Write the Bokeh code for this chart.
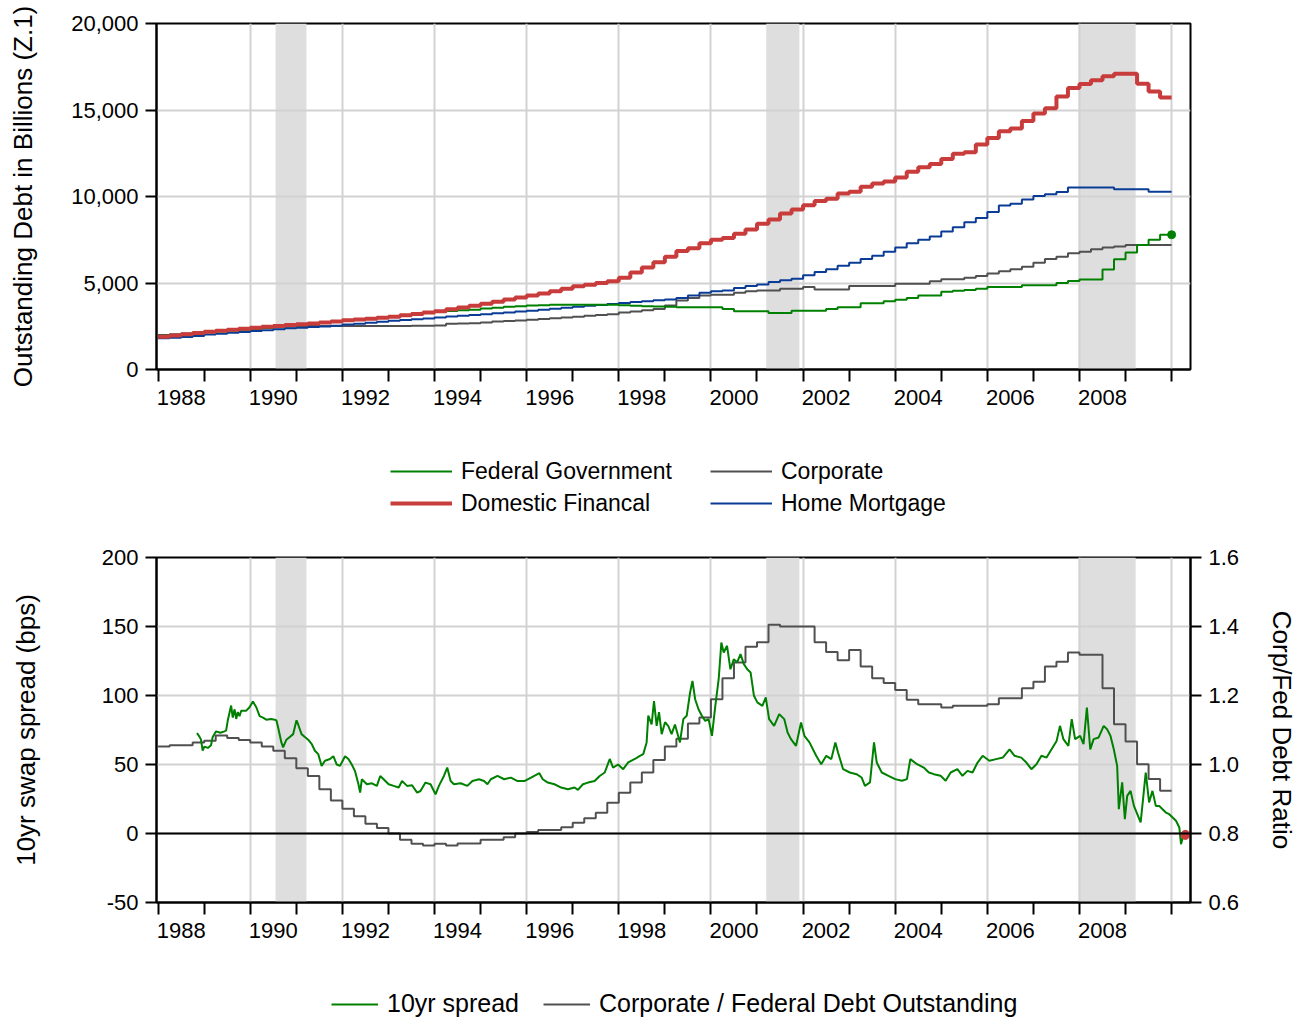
from bokeh.plotting import figure
from bokeh.models import (Range1d, LinearAxis, FixedTicker, CustomJSTickFormatter,
                          NumeralTickFormatter, BoxAnnotation, Span, Legend, LegendItem)
from bokeh.layouts import column
from bokeh.embed import file_html
from bokeh.resources import INLINE

FONT = "Liberation Sans"

# ---------------- data ----------------
first_year = 1988          # quarterly data 1988Q1 .. 2009Q4
last_year_end = 2010

federal = [
    1950, 2000, 2050, 2100,  2150, 2200, 2250, 2300,  2350, 2400, 2460, 2520,
    2580, 2640, 2700, 2760,  2820, 2880, 2940, 3000,  3060, 3130, 3200, 3270,
    3330, 3380, 3420, 3460,  3520, 3570, 3620, 3660,  3700, 3720, 3740, 3750,
    3750, 3750, 3750, 3740,  3720, 3690, 3660, 3640,  3620, 3600, 3600, 3600,
    3600, 3500, 3360, 3360,  3360, 3270, 3270, 3400,  3400, 3400, 3500, 3600,
    3600, 3830, 3830, 3950,  4030, 4140, 4280, 4280,  4500, 4550, 4600, 4670,
    4770, 4770, 4770, 4870,  4870, 4870, 5000, 5120,  5200, 5200, 5780, 6370,
    6760, 7200, 7500, 7790]

domestic = [
    1900, 1970, 2040, 2110,  2180, 2240, 2300, 2360,  2420, 2470, 2520, 2570,
    2610, 2660, 2720, 2780,  2840, 2890, 2940, 2990,  3050, 3130, 3210, 3290,
    3370, 3480, 3580, 3690,  3800, 3920, 4040, 4160,  4280, 4400, 4530, 4670,
    4810, 4900, 5000, 5100,  5300, 5600, 5900, 6200,  6520, 6850, 7010, 7300,
    7500, 7600, 7850, 8090,  8430, 8670, 9020, 9250,  9500, 9740, 9870, 10170,
    10280, 10560, 10750, 10870,  11100, 11430, 11690, 11880,  12170, 12470, 12560, 13010,
    13380, 13770, 13930, 14360,  14800, 15100, 15780, 16270,  16500, 16720, 16950, 17100,
    17100, 16520, 16070, 15720]

corporate = [
    2000, 2040, 2080, 2120,  2170, 2220, 2270, 2320,  2360, 2400, 2440, 2480,
    2500, 2510, 2520, 2520,  2520, 2520, 2520, 2520,  2520, 2520, 2530, 2530,
    2540, 2640, 2660, 2680,  2720, 2770, 2800, 2830,  2880, 2920, 2960, 3000,
    3050, 3100, 3150, 3200,  3300, 3350, 3420, 3500,  3700, 3990, 4140, 4280,
    4320, 4320, 4440, 4530,  4570, 4570, 4670, 4670,  4770, 4630, 4630, 4630,
    4830, 4830, 4830, 4830,  4960, 4960, 4960, 5100,  5220, 5220, 5310, 5410,
    5550, 5680, 5800, 5940,  6170, 6390, 6520, 6720,  6810, 6950, 7050, 7110,
    7200, 7200, 7200, 7200]

mortgage = [
    1800, 1840, 1880, 1930,  2020, 2070, 2120, 2170,  2220, 2270, 2330, 2380,
    2420, 2450, 2490, 2530,  2600, 2650, 2700, 2760,  2820, 2860, 2900, 2950,
    3000, 3060, 3100, 3150,  3200, 3250, 3300, 3350,  3400, 3450, 3510, 3570,
    3620, 3680, 3730, 3790,  3850, 3900, 3950, 4000,  4050, 4140, 4280, 4440,
    4530, 4570, 4710, 4830,  4920, 5060, 5160, 5250,  5450, 5640, 5800, 6000,
    6170, 6390, 6580, 6810,  7050, 7300, 7500, 7690,  7980, 8220, 8510, 8760,
    9110, 9480, 9580, 9830,  10030, 10130, 10260, 10520,  10520, 10520, 10520, 10420,
    10420, 10420, 10280, 10280]

corp_fed_ratio = [
    1.052, 1.056, 1.056, 1.064,  1.069, 1.084, 1.077, 1.071,  1.064, 1.052, 1.040, 1.018,
    0.989, 0.967, 0.928, 0.896,  0.872, 0.850, 0.828, 0.816,  0.800, 0.782, 0.770, 0.765,
    0.770, 0.765, 0.771, 0.771,  0.782, 0.782, 0.789, 0.800,  0.804, 0.810, 0.810, 0.818,
    0.831, 0.844, 0.860, 0.889,  0.918, 0.948, 0.977, 1.013,  1.052, 1.075, 1.119, 1.136,
    1.189, 1.250, 1.296, 1.341,  1.354, 1.405, 1.400, 1.400,  1.400, 1.354, 1.326, 1.302,
    1.332, 1.284, 1.250, 1.236,  1.216, 1.188, 1.175, 1.175,  1.165, 1.170, 1.170, 1.170,
    1.175, 1.192, 1.192, 1.221,  1.240, 1.284, 1.298, 1.325,  1.318, 1.318, 1.221, 1.117,
    1.067, 1.001, 0.958, 0.924]

spread_year = [
    1988.844, 1988.90, 1988.931, 1988.967, 1989.004, 1989.08, 1989.149, 1989.185, 1989.258, 1989.35,
    1989.44, 1989.476, 1989.513, 1989.585, 1989.62, 1989.66, 1989.695, 1989.73, 1989.767, 1989.804,
    1989.913, 1989.985, 1990.058, 1990.131, 1990.204, 1990.276, 1990.349, 1990.45, 1990.531, 1990.567,
    1990.604, 1990.676, 1990.713, 1990.785, 1990.858, 1990.931, 1991.004, 1991.04, 1991.113, 1991.185,
    1991.258, 1991.331, 1991.404, 1991.476, 1991.549, 1991.622, 1991.731, 1991.804, 1991.876, 1991.949,
    1992.058, 1992.131, 1992.204, 1992.276, 1992.349, 1992.385, 1992.422, 1992.531, 1992.64, 1992.749,
    1992.822, 1992.895, 1993.004, 1993.113, 1993.222, 1993.295, 1993.404, 1993.513, 1993.622, 1993.695,
    1993.804, 1993.913, 1994.022, 1994.095, 1994.204, 1994.276, 1994.349, 1994.422, 1994.567, 1994.713,
    1994.822, 1994.967, 1995.076, 1995.149, 1995.222, 1995.367, 1995.513, 1995.658, 1995.804, 1995.949,
    1996.095, 1996.276, 1996.349, 1996.458, 1996.604, 1996.749, 1996.895, 1997.04, 1997.113, 1997.222,
    1997.331, 1997.476, 1997.585, 1997.695, 1997.804, 1997.876, 1997.985, 1998.095, 1998.204, 1998.349,
    1998.458, 1998.531, 1998.604, 1998.64, 1998.713, 1998.764, 1998.822, 1998.873, 1998.931, 1999.004,
    1999.073, 1999.146, 1999.219, 1999.328, 1999.401, 1999.474, 1999.547, 1999.599, 1999.657, 1999.73,
    1999.803, 1999.876, 1999.949, 2000.022, 2000.095, 2000.168, 2000.226, 2000.277, 2000.35, 2000.423,
    2000.496, 2000.569, 2000.642, 2000.715, 2000.788, 2000.861, 2000.934, 2001.007, 2001.117, 2001.19,
    2001.263, 2001.372, 2001.482, 2001.591, 2001.664, 2001.737, 2001.847, 2001.956, 2002.029, 2002.139,
    2002.285, 2002.394, 2002.504, 2002.613, 2002.701, 2002.759, 2002.869, 2003.015, 2003.161, 2003.27,
    2003.343, 2003.453, 2003.54, 2003.599, 2003.708, 2003.854, 2004.0, 2004.146, 2004.255, 2004.328,
    2004.474, 2004.62, 2004.73, 2004.839, 2004.985, 2005.095, 2005.204, 2005.35, 2005.46, 2005.569,
    2005.679, 2005.788, 2005.898, 2006.044, 2006.19, 2006.336, 2006.482, 2006.591, 2006.737, 2006.847,
    2006.956, 2007.066, 2007.175, 2007.285, 2007.394, 2007.504, 2007.577, 2007.65, 2007.759, 2007.832,
    2007.905, 2008.015, 2008.088, 2008.161, 2008.234, 2008.307, 2008.416, 2008.526, 2008.599, 2008.672,
    2008.745, 2008.818, 2008.854, 2008.927, 2008.985, 2009.036, 2009.109, 2009.182, 2009.255, 2009.328,
    2009.38, 2009.438, 2009.511, 2009.584, 2009.657, 2009.73, 2009.803, 2009.876, 2009.949, 2010.022,
    2010.095, 2010.168, 2010.204, 2010.255, 2010.299]

spread_bps = [
    72.8, 70, 68, 60, 63, 62, 64, 70, 74, 73,
    74, 74.5, 82, 92.7, 84, 90, 83, 88, 85, 89,
    89, 91.5, 95.6, 91.5, 85, 84, 82.5, 83, 82.5, 82,
    77, 66, 62.4, 68, 70, 72, 82, 79, 72, 70,
    68, 65, 60, 57.5, 49, 52.7, 54, 56, 50, 49,
    56, 54, 50, 45, 35.7, 29.6, 39.3, 35.7, 36.4, 34.5,
    41.7, 39.3, 35.7, 34.5, 33.3, 38, 34.5, 35, 29.6, 30.8,
    36.9, 35.7, 28.4, 34.5, 41.7, 47.8, 38, 35.7, 36.4, 34.5,
    38, 39.3, 38, 35.7, 39.3, 41.7, 39.3, 40.5, 38, 38,
    40.5, 43.7, 39.3, 36.9, 35.7, 33.3, 32, 33.3, 31.6, 35.7,
    36.9, 38, 41.7, 44.2, 54, 47.8, 50, 46.6, 51.5, 54,
    56.3, 57.5, 66, 85.4, 79, 96, 78, 87.9, 72, 80.6,
    78, 72, 79, 66, 82.9, 85.3, 102, 110.6, 97.3, 90,
    85.3, 81.6, 82.9, 70.8, 92.5, 111.8, 138.4, 131.2, 136, 119,
    126.3, 124, 130, 122.7, 119, 116.7, 99.8, 95, 92.5, 98.6,
    82.9, 78, 86.5, 82.9, 73.2, 68.4, 63.5, 80.4, 70.8, 66,
    56.3, 50.2, 56.3, 53.9, 66, 58.7, 46.6, 44.2, 43, 40.6,
    34.5, 37, 66, 51.4, 44.2, 41.8, 39.4, 38.2, 39.4, 53.9,
    50.2, 47.8, 44.2, 43, 41.8, 38.2, 44.2, 46.6, 41.8, 45.4,
    44.2, 51.4, 56.3, 52.7, 53.9, 55, 61, 56.3, 55, 51.4,
    46.6, 50.2, 56.3, 55, 61, 67.1, 78, 68.4, 63.5, 82.9,
    68.4, 70.8, 64.7, 91.3, 61, 68.4, 69.6, 78, 75.6, 70.8,
    61, 49, 17.6, 37, 10.4, 27.3, 30.9, 20, 14, 8,
    24.9, 44.2, 22.5, 30.9, 20, 20, 17.6, 15.2, 14, 11.6,
    9.2, 4.3, -7.7, -1.7, -1]

recession_start = [1990.55, 2001.20, 2007.98]
recession_end = [1991.22, 2001.92, 2009.22]

label_years = list(range(1988, 2010, 2))
grid_years = list(range(1990, 2011, 2))
year_ticks = list(range(1988, 2011))
debt_ticks = [0, 5000, 10000, 15000, 20000]
bps_ticks = [-50, 0, 50, 100, 150, 200]
ratio_ticks = [0.6, 0.8, 1.0, 1.2, 1.4, 1.6]

# ---------------- helpers ----------------
n_q = len(federal)
xq = [first_year + i / 4 for i in range(n_q)] + [last_year_end]


def ext(v):
    return list(v) + [v[-1]]


W = 1300
X_RANGE = (1987.965, 2010.41)
GRID = "#d2d2d2"
SHADE = "#dedede"
C_GREEN = "#008000"
C_RED = "#c83c3c"
C_BLUE = "#0a3c96"
C_GREY = "#505050"


def style_common(p):
    p.outline_line_color = "black"
    p.outline_line_width = 2
    p.background_fill_color = "white"
    p.border_fill_color = "white"
    p.xgrid.ticker = FixedTicker(ticks=grid_years)
    for g in (p.xgrid, p.ygrid):
        g.grid_line_color = GRID
        g.grid_line_width = 2
    for s, e in zip(recession_start, recession_end):
        p.add_layout(BoxAnnotation(left=s, right=e, fill_color=SHADE, fill_alpha=1.0,
                                   line_color=None, level="image"))


def style_axis(ax):
    ax.axis_line_color = "black"
    ax.axis_line_width = 2
    ax.major_tick_line_color = "black"
    ax.major_tick_line_width = 2
    ax.major_tick_in = 0
    ax.major_tick_out = 11
    ax.minor_tick_line_color = None
    ax.major_label_text_font = FONT
    ax.major_label_text_font_size = "22px"
    ax.major_label_text_color = "black"
    ax.major_label_standoff = 7
    ax.axis_label_text_font = FONT
    ax.axis_label_text_font_size = "26px"
    ax.axis_label_text_font_style = "normal"
    ax.axis_label_text_color = "black"


def style_xaxis(ax):
    style_axis(ax)
    ax.ticker = FixedTicker(ticks=[y + 0.5 for y in label_years], minor_ticks=year_ticks)
    ax.formatter = CustomJSTickFormatter(code="return String(Math.floor(tick));")
    ax.major_tick_line_color = None
    ax.major_tick_out = 12
    ax.minor_tick_line_color = "black"
    ax.minor_tick_line_width = 2
    ax.minor_tick_in = 0
    ax.minor_tick_out = 12
    ax.major_label_standoff = 8


def style_legend(lg, size, gw, lw):
    lg.label_text_font = FONT
    lg.label_text_font_size = size
    lg.label_text_color = "black"
    lg.glyph_width = gw
    lg.glyph_height = 28
    lg.label_height = 28
    lg.label_width = lw
    lg.label_standoff = 9
    lg.padding = 0
    lg.margin = 0
    lg.border_line_color = None
    lg.background_fill_alpha = 0


def legend_figure(height):
    f = figure(width=W, height=height, x_range=Range1d(0, 1), y_range=Range1d(0, 1),
               output_backend="svg", toolbar_location=None, min_border=0,
               x_axis_location=None, y_axis_location=None)
    f.outline_line_color = None
    f.grid.visible = False
    return f


def legend_key(f, color, width):
    # a key line kept outside the visible range: only its legend sample shows
    return f.line([5, 6], [5, 6], line_color=color, line_width=width)


# ---------------- top panel ----------------
p1 = figure(width=W, height=417, x_range=Range1d(*X_RANGE), y_range=Range1d(0, 20000),
            output_backend="svg", toolbar_location=None,
            min_border_left=156, min_border_right=105, min_border_top=23, min_border_bottom=48)
style_common(p1)
style_xaxis(p1.xaxis[0])
style_axis(p1.yaxis[0])
p1.yaxis[0].ticker = FixedTicker(ticks=debt_ticks)
p1.yaxis[0].formatter = NumeralTickFormatter(format="0,0")
p1.yaxis[0].axis_label = "Outstanding Debt in Billions (Z.1)"
p1.yaxis[0].axis_label_standoff = 30

p1.step(xq, ext(corporate), mode="after", line_color=C_GREY, line_width=2)
p1.step(xq, ext(mortgage), mode="after", line_color=C_BLUE, line_width=2)
p1.step(xq, ext(federal), mode="after", line_color=C_GREEN, line_width=2)
p1.step(xq, ext(domestic), mode="after", line_color=C_RED, line_width=4)
p1.scatter([xq[-1]], [federal[-1]], size=8, color=C_GREEN)

# legend strip for the top panel
lf1 = legend_figure(118)
k_fed = legend_key(lf1, C_GREEN, 2)
k_corp = legend_key(lf1, C_GREY, 2)
k_dom = legend_key(lf1, C_RED, 4)
k_mort = legend_key(lf1, C_BLUE, 2)
lg1 = Legend(items=[LegendItem(label="Federal Government", renderers=[k_fed]),
                    LegendItem(label="Corporate", renderers=[k_corp]),
                    LegendItem(label="Domestic Financal", renderers=[k_dom]),
                    LegendItem(label="Home Mortgage", renderers=[k_mort])],
             location=(234, 18), orientation="horizontal", ncols=2, spacing=4)
style_legend(lg1, "23px", 62, 245)
lf1.add_layout(lg1)

# ---------------- bottom panel ----------------
p2 = figure(width=W, height=414, x_range=Range1d(*X_RANGE), y_range=Range1d(-50, 200),
            output_backend="svg", toolbar_location=None,
            min_border_left=156, min_border_right=105, min_border_top=22, min_border_bottom=47)
p2.extra_y_ranges = {"ratio": Range1d(0.6, 1.6)}
style_common(p2)
style_xaxis(p2.xaxis[0])
style_axis(p2.yaxis[0])
p2.yaxis[0].ticker = FixedTicker(ticks=bps_ticks)
p2.yaxis[0].formatter = NumeralTickFormatter(format="0")
p2.yaxis[0].axis_label = "10yr swap spread (bps)"
p2.yaxis[0].axis_label_standoff = 58

raxis = LinearAxis(y_range_name="ratio", axis_label="Corp/Fed Debt Ratio")
style_axis(raxis)
raxis.ticker = FixedTicker(ticks=ratio_ticks)
raxis.formatter = NumeralTickFormatter(format="0.0")
raxis.axis_label_standoff = 25
p2.add_layout(raxis, "right")

p2.add_layout(Span(location=0, dimension="width", line_color="black", line_width=2))

p2.step(xq, ext(corp_fed_ratio), mode="after", line_color=C_GREY, line_width=2,
        y_range_name="ratio")
p2.line(spread_year, spread_bps, line_color=C_GREEN, line_width=2)
p2.scatter([spread_year[-1]], [spread_bps[-1]], size=9, color=C_RED)

# legend strip for the bottom panel
lf2 = legend_figure(71)
k_spread = legend_key(lf2, C_GREEN, 2)
k_ratio = legend_key(lf2, C_GREY, 2)
lg2 = Legend(items=[LegendItem(label="10yr spread", renderers=[k_spread]),
                    LegendItem(label="Corporate / Federal Debt Outstanding", renderers=[k_ratio])],
             location=(175, 2), orientation="horizontal", spacing=13)
style_legend(lg2, "25px", 47, 143)
lf2.add_layout(lg2)

layout = column(p1, lf1, p2, lf2)
open("out.html", "w").write(file_html(layout, INLINE))
